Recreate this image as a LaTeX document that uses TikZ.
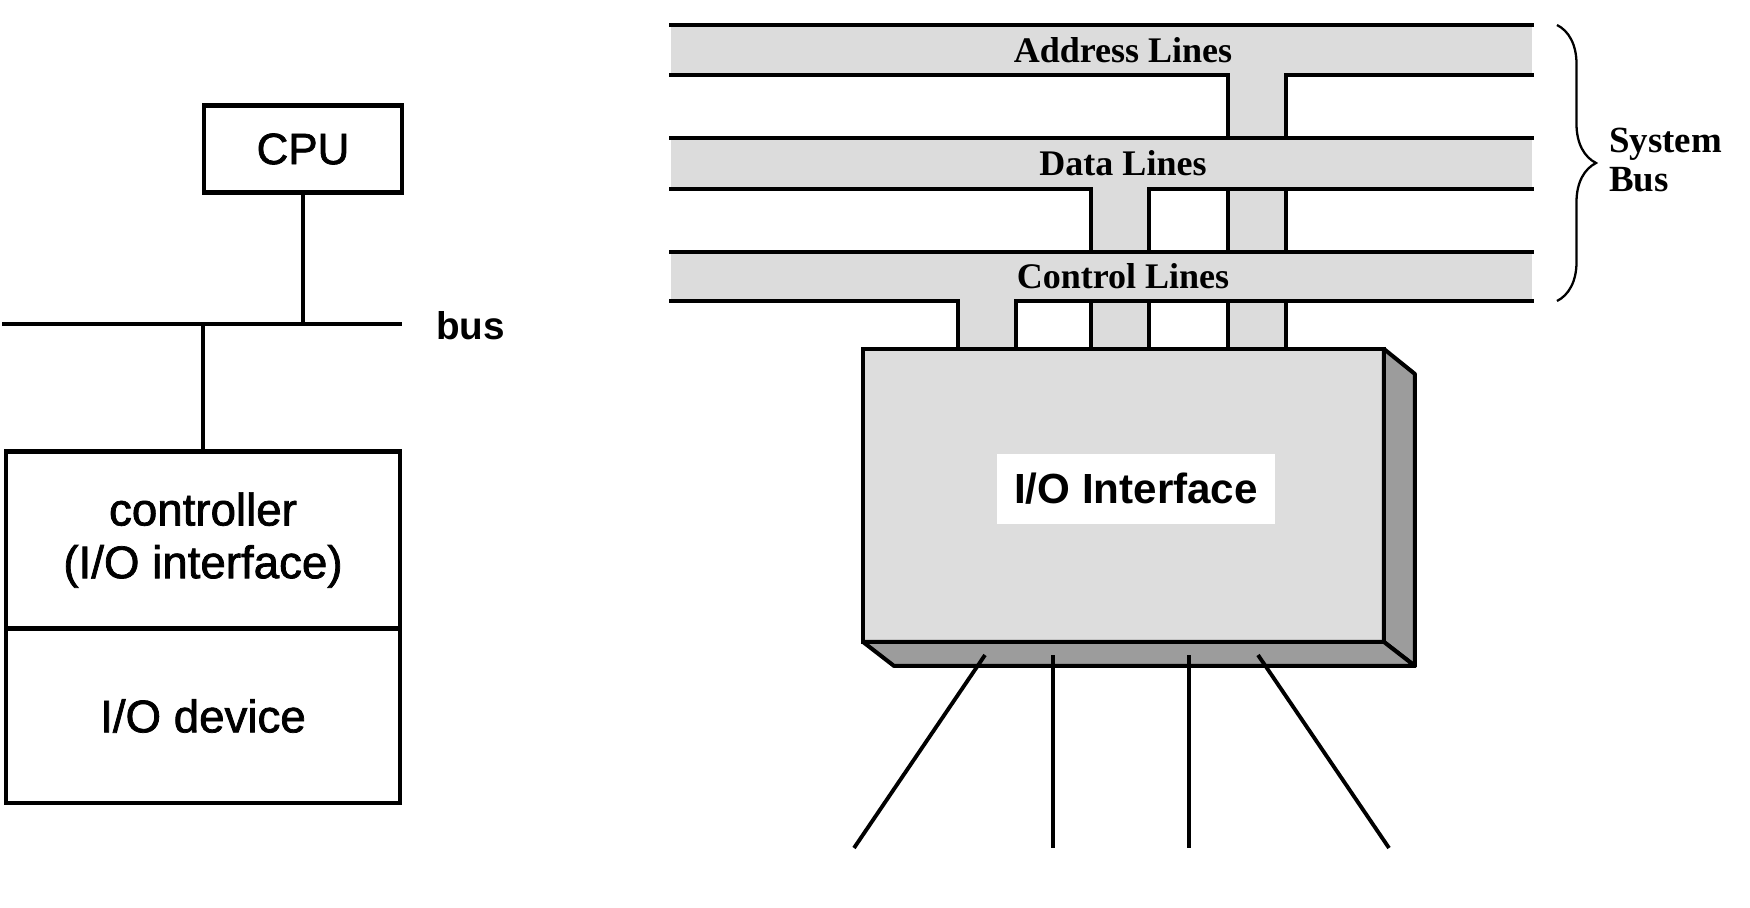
\documentclass[tikz,border=0pt]{standalone}
\usepackage{fontspec}
\setmainfont{Liberation Sans}
\newfontfamily\timesfont{Liberation Serif}
\newfontfamily\heavyfont{Liberation Sans}[FakeBold=1.6]
\usetikzlibrary{positioning, decorations.pathreplacing}

\definecolor{bandgray}{HTML}{DCDCDC}
\definecolor{boxgray}{HTML}{DDDDDD}
\definecolor{sidegray}{HTML}{9C9C9C}

\begin{document}
\begin{tikzpicture}[
    x=0.02cm, y=-0.02cm,
    block/.style={draw, line width=2.3pt, inner sep=0pt, outer sep=0pt,
                  font=\heavyfont\fontsize{26pt}{30pt}\selectfont},
    busline/.style={line width=1.9pt, line cap=rect},
    wire/.style={line width=2.2pt},
    banner/.style={font=\timesfont\bfseries\fontsize{20.5pt}{22pt}\selectfont}
]
    \useasboundingbox (0,0) rectangle (1750,908);

    % 左图
    \begin{scope}
        \node[block, minimum width=3.96cm, minimum height=1.74cm, font=\heavyfont\fontsize{25pt}{30pt}\selectfont] (cpu) at (303,149) {CPU};
        \node[block, minimum width=7.88cm, minimum height=3.54cm, align=center] (ctrl) at (203,540) {controller\\(I/O interface)};
        \node[block, minimum width=7.88cm, minimum height=3.5cm, below=0pt of ctrl] (dev) {I/O device};
        \coordinate (busL) at (2,324);
        \coordinate (busR) at (402,324);
        \draw[line width=1.9pt] (busL) -- (busR);
        \node[anchor=west, font=\bfseries\fontsize{22pt}{26pt}\selectfont] (buslabel) at (430,326) {bus};
        \draw[line width=2.3pt] (cpu) -- (cpu |- busL);
        \draw[line width=2.3pt] (ctrl) -- (ctrl |- busL);
    \end{scope}

    % 右图：总线
    \begin{scope}
        \foreach \xs/\ys in {1228/75, 1091/189, 958/301} {
            \fill[bandgray] (\xs,\ys) rectangle (\xs+58,349);
            \draw[busline] (\xs,\ys) -- (\xs,349) (\xs+58,\ys) -- (\xs+58,349);
        }
        \foreach \yt/\yb/\xg/\name [count=\i] in {25/75/1228/Address Lines, 138/189/1091/Data Lines, 252/301/958/Control Lines} {
            \fill[bandgray] (671,\yt) rectangle (1532,\yb);
            \draw[busline] (671,\yt) -- (1532,\yt);
            \draw[busline] (671,\yb) -- (\xg,\yb) (\xg+58,\yb) -- (1532,\yb);
            \node[banner] (band\i) at (1123,{(\yt+\yb)/2}) {\name};
        }

        % 接口盒
        \node[draw, fill=boxgray, line width=2.3pt, inner sep=0pt, outer sep=0pt,
              minimum width=10.42cm, minimum height=5.86cm] (iobox) at (1123.5,495.5) {};
        \filldraw[fill=sidegray, line width=2.3pt, line join=round]
            (iobox.north east) -- ++(31,25) -- ([shift={(31,24)}]iobox.south east) -- (iobox.south east) -- cycle;
        \filldraw[fill=sidegray, line width=2.3pt, line join=round]
            (iobox.south west) -- ([shift={(31,24)}]iobox.south west) -- ([shift={(31,24)}]iobox.south east) -- (iobox.south east) -- cycle;
        \node[fill=white, minimum width=5.58cm, minimum height=1.4cm,
              font=\bfseries\fontsize{24pt}{28pt}\selectfont] (iolabel) at (1136,489) {I/O Interface};

        % 外部连线
        \foreach \xs/\xe [count=\i] in {985/854, 1053/1053, 1189/1189, 1258/1389} {
            \coordinate (w\i) at (\xs,655);
            \coordinate (e\i) at (\xe,848);
            \draw[wire] (w\i) -- (e\i);
        }

        % 花括号
        \coordinate (brT) at (1557,25);
        \coordinate (brB) at (1557,301);
        \draw[decorate, decoration={brace, amplitude=0.78cm}, line width=1.3pt] (brT) -- (brB);
        \node[banner, anchor=west, align=left, font=\timesfont\bfseries\fontsize{21pt}{22pt}\selectfont] (sysbus) at (1603,160) {System\\Bus};
    \end{scope}
\end{tikzpicture}
\end{document}
